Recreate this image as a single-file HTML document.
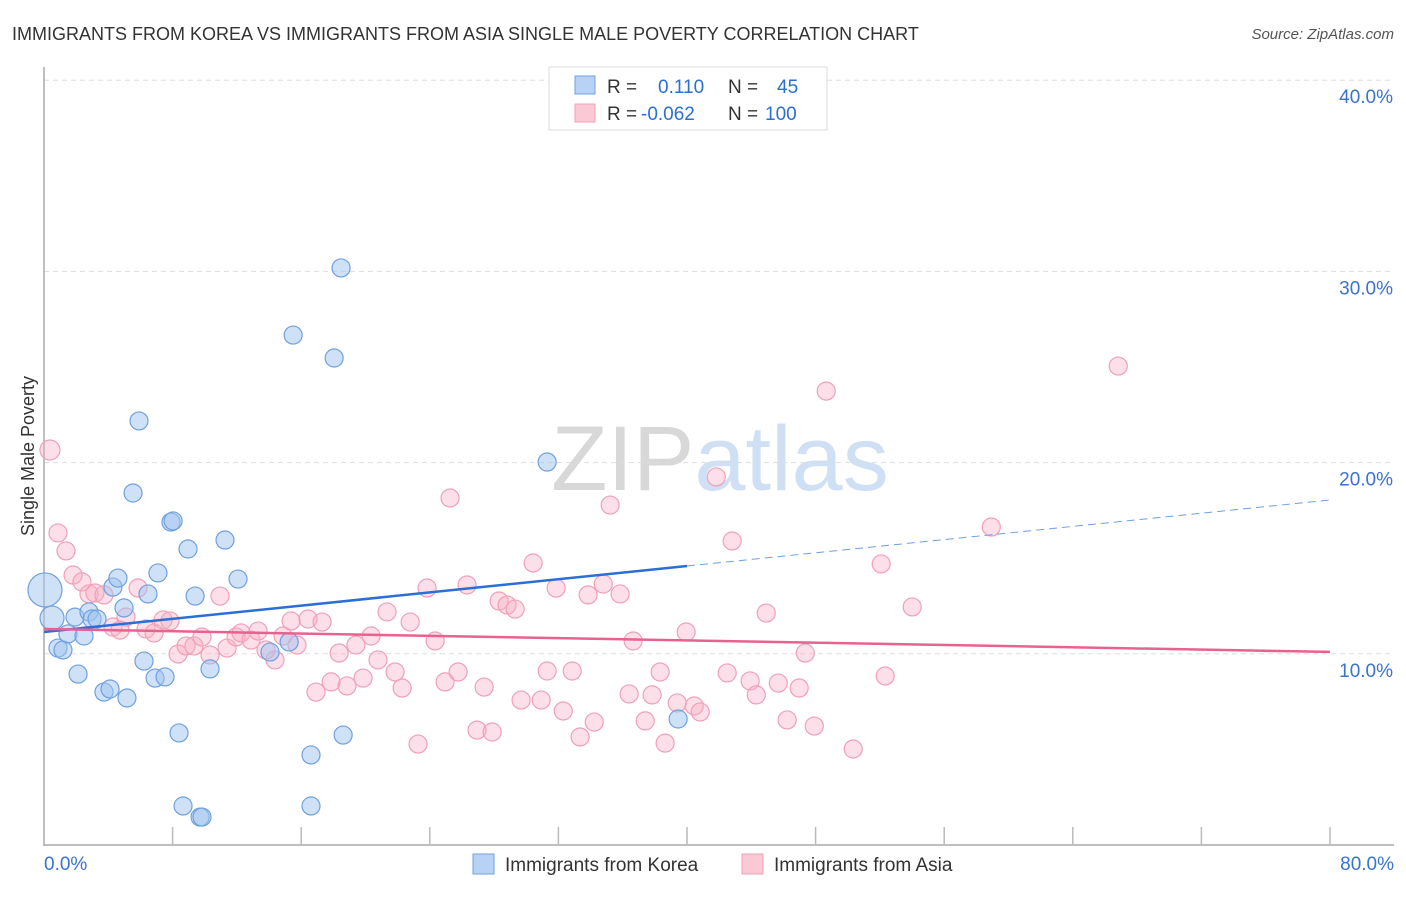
<!DOCTYPE html>
<html><head><meta charset="utf-8"><style>
body{margin:0;background:#fff;font-family:"Liberation Sans",sans-serif}
svg text{font-family:"Liberation Sans",sans-serif}
</style></head><body>
<svg id="chart" width="1406" height="892">
<text x="12" y="40" font-size="18" fill="#333">IMMIGRANTS FROM KOREA VS IMMIGRANTS FROM ASIA SINGLE MALE POVERTY CORRELATION CHART</text>
<text x="1394" y="39" font-size="15" fill="#555" text-anchor="end" font-style="italic">Source: ZipAtlas.com</text>
<text x="720" y="490" font-size="92" fill="#ddd" text-anchor="middle" font-family="Liberation Serif"><tspan fill="#d8d8d8">ZIP</tspan><tspan fill="#cfe0f5" font-family="Liberation Sans">atlas</tspan></text>
<g id="grid"></g>
<g id="axes"></g>
<g id="pts"></g>
<g id="trends"></g>
<text transform="translate(34,456) rotate(-90)" font-size="18" fill="#333" text-anchor="middle">Single Male Poverty</text>
<g>
<rect x="549" y="67" width="278" height="63" fill="#fff" stroke="#ddd"/>
<rect x="575" y="76" width="20" height="18" fill="#b8d2f5" stroke="#6fa0e0"/>
<rect x="575" y="104" width="20" height="18" fill="#fbc8d6" stroke="#f0a0b8"/>
<text x="607" y="93" font-size="19" fill="#333">R = <tspan fill="#2a6fd6" x="658">0.110</tspan><tspan x="728" fill="#333">N =</tspan><tspan x="777" fill="#2a6fd6">45</tspan></text>
<text x="607" y="120" font-size="19" fill="#333">R = <tspan fill="#2a6fd6" x="641">-0.062</tspan><tspan x="728" fill="#333">N =</tspan><tspan x="765" fill="#2a6fd6">100</tspan></text>
</g>
<g>
<rect x="473" y="854" width="21" height="20" fill="#b8d2f5" stroke="#6fa0e0"/>
<text x="505" y="871" font-size="19" fill="#333">Immigrants from Korea</text>
<rect x="742" y="854" width="21" height="20" fill="#fbc8d6" stroke="#f0a0b8"/>
<text x="774" y="871" font-size="19" fill="#333">Immigrants from Asia</text>
</g>
</svg>
<script>
const yTicks=[10,20,30,40];
const yTickLabels=["10.0%","20.0%","30.0%","40.0%"];
const xTickLabels=["0.0%","80.0%"];
const koreaX=[0.06,0.5,0.87,1.18,1.49,2.12,2.49,1.93,2.8,2.99,3.3,3.73,4.11,4.29,4.6,4.98,5.16,5.54,5.91,6.22,6.47,6.91,7.09,7.53,7.9,8.03,8.4,8.65,8.96,9.4,9.71,9.83,10.33,11.26,12.07,14.06,15.25,15.5,16.61,16.61,18.05,18.48,18.61,31.3,39.45];
const koreaY=[13.34,11.87,10.3,10.2,11.04,8.94,10.93,11.92,12.19,11.82,11.82,8.0,8.16,13.49,13.96,12.4,7.69,18.41,22.18,9.62,13.13,8.73,14.23,8.79,16.89,16.95,5.86,2.04,15.48,13.02,1.46,1.46,9.21,15.95,13.91,10.09,10.62,26.67,4.71,2.04,25.47,30.18,5.75,20.03,6.59];
const asiaX=[0.37,0.87,1.37,1.81,2.36,2.8,3.17,3.73,4.29,4.73,5.1,5.85,6.35,6.85,7.41,7.84,8.34,8.84,9.33,9.83,10.33,10.95,11.39,11.95,12.26,12.88,13.32,13.81,14.37,14.87,15.37,15.74,16.43,16.92,17.3,17.86,18.36,18.85,19.41,19.85,20.35,20.78,21.34,21.84,22.28,22.78,23.27,23.83,24.33,24.95,25.26,25.76,26.32,26.94,27.38,27.88,28.31,28.81,29.31,29.68,30.43,30.93,31.3,31.86,32.3,32.86,33.35,33.85,34.23,34.79,35.22,35.84,36.4,36.65,37.4,37.83,38.33,38.64,39.39,39.95,40.45,40.82,41.82,42.5,42.81,43.93,44.31,44.93,45.68,46.23,46.98,47.36,47.92,48.66,50.34,52.08,52.33,54.01,58.93,66.83];
const asiaY=[20.66,16.32,15.38,14.12,13.76,13.13,13.18,13.08,11.4,11.24,11.92,13.44,11.3,11.09,11.77,11.72,9.99,10.41,10.41,10.88,9.94,13.02,10.3,10.88,11.09,10.72,11.19,10.2,9.68,10.93,11.72,10.46,11.82,8.0,11.66,8.53,10.04,8.32,10.46,8.73,10.93,9.68,12.19,9.05,8.21,11.66,5.28,13.44,10.67,8.53,18.15,9.05,13.6,6.01,8.26,5.91,12.76,12.55,12.34,7.58,14.75,7.58,9.1,13.44,7.01,9.1,5.65,13.08,6.43,13.65,17.78,13.13,7.9,10.67,6.49,7.85,9.05,5.33,7.43,11.14,7.27,6.96,19.25,9.0,15.9,8.58,7.85,12.13,8.47,6.54,8.21,10.04,6.22,23.74,5.02,14.7,8.84,12.45,16.63,25.05];
const koreaTrend=[11.14,0.0863];
const asiaTrend=[11.3,-0.015];
const NS="http://www.w3.org/2000/svg";
const X=v=>44+v*16.075, Y=v=>845-v*19.12;
function mk(tag,attrs,parent){const e=document.createElementNS(NS,tag);for(const k in attrs)e.setAttribute(k,attrs[k]);parent.appendChild(e);return e;}
const grid=document.getElementById('grid'),axes=document.getElementById('axes'),pts=document.getElementById('pts'),tr=document.getElementById('trends');
yTicks.forEach((t,i)=>{
 const l=mk('line',{x1:44,x2:1394,y1:Y(t),y2:Y(t),stroke:'#ddd','stroke-dasharray':'5,4'},grid);
 
 
 const tx=mk('text',{x:1393,y:Y(t)+23,'font-size':19,fill:'#3a72d0','text-anchor':'end'},axes);
 tx.textContent=yTickLabels[i];
 
 
});
let a=mk('line',{x1:44,x2:44,y1:67,y2:846,stroke:'#aaa','stroke-width':1.5},axes);


a=mk('line',{x1:44,x2:1394,y1:845,y2:845,stroke:'#aaa','stroke-width':1.5},axes);


for(let i=1;i<=10;i++){const t=mk('line',{x1:X(i*8),x2:X(i*8),y1:827,y2:845,stroke:'#bbb','stroke-width':1.5},axes);
 
 }
let t0=mk('text',{x:44,y:870,'font-size':19,fill:'#3a72d0'},axes);t0.textContent=xTickLabels[0];


t0=mk('text',{x:1394,y:870,'font-size':19,fill:'#3a72d0','text-anchor':'end'},axes);t0.textContent=xTickLabels[1];


asiaX.forEach((x,i)=>{const c=mk('circle',{cx:X(x),cy:Y(asiaY[i]),r:i==0?10:9,fill:'rgba(248,175,198,0.4)',stroke:'#f0a0b8','stroke-width':1.2},pts);
 
 });
koreaX.forEach((x,i)=>{const c=mk('circle',{cx:X(x),cy:Y(koreaY[i]),r:i==0?17:(i==1?12:9),fill:'rgba(160,196,240,0.5)',stroke:'#6fa0e0','stroke-width':1.2},pts);
 
 });
let l=mk('line',{x1:X(0),y1:Y(koreaTrend[0]),x2:X(40),y2:Y(koreaTrend[0]+koreaTrend[1]*40),stroke:'#2a6fd6','stroke-width':2.5},tr);


l=mk('line',{x1:X(40),y1:Y(koreaTrend[0]+koreaTrend[1]*40),x2:X(80),y2:Y(koreaTrend[0]+koreaTrend[1]*80),stroke:'#6fa0e0','stroke-width':1,'stroke-dasharray':'8,5'},tr);


l=mk('line',{x1:X(0),y1:Y(asiaTrend[0]),x2:X(80),y2:Y(asiaTrend[0]+asiaTrend[1]*80),stroke:'#e8628f','stroke-width':2.5},tr);


</script>
</body></html>
